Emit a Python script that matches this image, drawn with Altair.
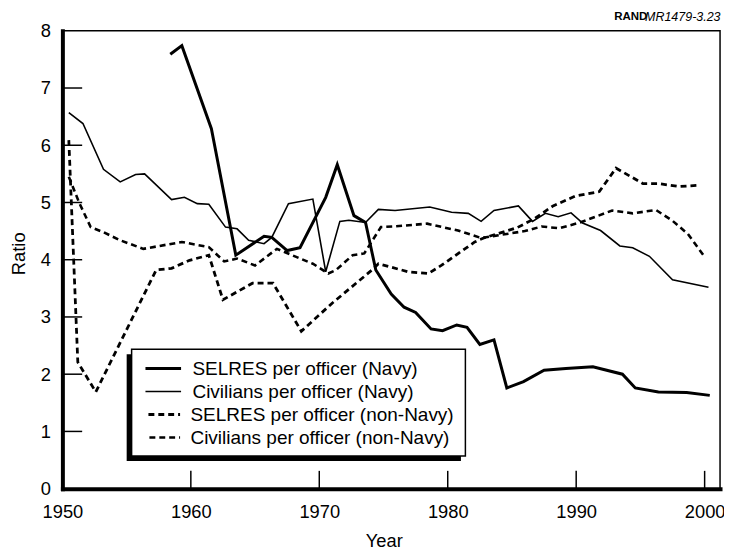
import altair as alt
import pandas as pd

# ---------------- data ----------------
series_names = [
    "SELRES per officer (Navy)",
    "Civilians per officer (Navy)",
    "SELRES per officer (non-Navy)",
    "Civilians per officer (non-Navy)",
]

selres_navy_years = [1958.4, 1959.3, 1961.6, 1963.5, 1965.7, 1966.3, 1967.5, 1968.5, 1970.5, 1971.4,
                     1972.7, 1973.6, 1974.4, 1975.6, 1976.6, 1977.5, 1978.7, 1979.6, 1980.7, 1981.5,
                     1982.5, 1983.6, 1984.6, 1985.9, 1987.5, 1989.2, 1991.3, 1993.6, 1994.6, 1996.4,
                     1998.6, 2000.4]
selres_navy_vals = [7.59, 7.74, 6.29, 4.08, 4.41, 4.39, 4.16, 4.21, 5.09, 5.66,
                    4.77, 4.65, 3.82, 3.40, 3.17, 3.08, 2.79, 2.76, 2.86, 2.82,
                    2.52, 2.60, 1.76, 1.87, 2.07, 2.10, 2.13, 2.00, 1.76, 1.69,
                    1.68, 1.63]

civ_navy_years = [1950.5, 1951.6, 1953.2, 1954.5, 1955.7, 1956.4, 1958.5, 1959.5, 1960.5, 1961.4,
                  1962.7, 1963.6, 1964.5, 1965.7, 1966.3, 1967.6, 1969.5, 1970.5, 1971.6, 1972.3,
                  1973.6, 1974.6, 1975.9, 1978.6, 1980.3, 1981.6, 1982.6, 1983.6, 1985.5, 1986.6,
                  1987.6, 1988.6, 1989.6, 1990.5, 1991.9, 1993.4, 1994.4, 1995.7, 1997.5, 2000.3]
civ_navy_vals = [6.57, 6.38, 5.58, 5.36, 5.49, 5.50, 5.05, 5.09, 4.98, 4.97,
                 4.57, 4.54, 4.34, 4.28, 4.39, 4.98, 5.06, 3.79, 4.67, 4.69,
                 4.65, 4.88, 4.86, 4.92, 4.83, 4.81, 4.67, 4.86, 4.94, 4.67,
                 4.81, 4.75, 4.82, 4.64, 4.51, 4.24, 4.21, 4.06, 3.65, 3.52]

selres_other_years = [1950.5, 1951.2, 1952.6, 1957.3, 1958.5, 1959.9, 1961.4, 1962.5, 1964.8, 1966.4,
                      1968.6, 1971.0, 1974.1, 1974.6, 1976.9, 1978.5, 1979.5, 1982.1, 1982.8, 1985.4,
                      1986.7, 1988.2, 1989.9, 1991.8, 1993.1, 1995.2, 1996.4, 1998.0, 1999.5]
selres_other_vals = [6.09, 2.21, 1.69, 3.82, 3.85, 3.99, 4.08, 3.30, 3.59, 3.59,
                     2.75, 3.24, 3.82, 3.93, 3.79, 3.76, 3.90, 4.31, 4.38, 4.56,
                     4.71, 4.94, 5.11, 5.19, 5.60, 5.33, 5.33, 5.28, 5.30]

civ_other_years = [1950.5, 1951.3, 1952.2, 1953.2, 1954.5, 1956.3, 1959.3, 1961.4, 1962.6, 1963.6,
                   1965.0, 1966.7, 1968.2, 1969.5, 1970.7, 1971.3, 1972.6, 1973.5, 1974.8, 1975.7,
                   1978.4, 1980.8, 1982.6, 1986.0, 1987.3, 1988.7, 1990.3, 1992.8, 1994.4, 1996.2,
                   1997.5, 1998.7, 1999.9]
civ_other_vals = [5.45, 5.00, 4.57, 4.48, 4.34, 4.19, 4.31, 4.22, 3.97, 4.02,
                  3.90, 4.19, 4.05, 3.93, 3.76, 3.82, 4.08, 4.11, 4.57, 4.58,
                  4.63, 4.51, 4.38, 4.50, 4.58, 4.55, 4.65, 4.86, 4.81, 4.87,
                  4.68, 4.45, 4.08]

x_tick_labels = [1950, 1960, 1970, 1980, 1990, 2000]
y_tick_labels = [0, 1, 2, 3, 4, 5, 6, 7, 8]
x_inner_ticks = [1960, 1970, 1980, 1990, 2000]
y_inner_ticks = [1, 2, 3, 4, 5, 6, 7]

series_data = [
    (selres_navy_years, selres_navy_vals),
    (civ_navy_years, civ_navy_vals),
    (selres_other_years, selres_other_vals),
    (civ_other_years, civ_other_vals),
]

# ---------------- styling ----------------
W, H = 665, 463
FONT = "Liberation Sans"
FS = 18.5
LFS = 19.2

styles = [
    dict(strokeWidth=3.0),
    dict(strokeWidth=1.6),
    dict(strokeWidth=2.8, strokeDash=[6, 4]),
    dict(strokeWidth=2.6, strokeDash=[6, 4]),
]

xscale = alt.Scale(domain=[1950, 2001.2], nice=False, zero=False)
yscale = alt.Scale(domain=[0, 8], nice=False, zero=False)

xaxis = alt.Axis(values=x_tick_labels, format="d", title="Year", labelFlush=False,
                 ticks=False, tickSize=0, grid=False, labelPadding=14,
                 labelFontSize=FS, titleFontSize=FS, titleFontWeight="normal",
                 titleX=325, titleY=58, titleAlign="center", titleBaseline="alphabetic")
yaxis = alt.Axis(values=y_tick_labels, format="d", title="Ratio", labelFlush=False,
                 ticks=False, tickSize=0, grid=False, labelPadding=12,
                 labelFontSize=FS, titleFontSize=FS, titleFontWeight="normal",
                 titleX=-44, titleY=225, titleAlign="center", titleBaseline="middle",
                 titleAngle=270)

X = alt.X("year:Q", scale=xscale, axis=xaxis)
Y = alt.Y("value:Q", scale=yscale, axis=yaxis)

layers = []
for name, (yrs, vals), st in zip(series_names, series_data, styles):
    df = pd.DataFrame({"year": yrs, "value": vals, "series": name})
    layers.append(
        alt.Chart(df).mark_line(color="black", strokeCap="butt", **st).encode(x=X, y=Y)
    )

# inward tick marks
layers.append(
    alt.Chart(pd.DataFrame({"value": y_inner_ticks})).mark_rule(color="black", strokeWidth=1.5)
    .encode(y=Y, x=alt.value(0), x2=alt.value(20))
)
layers.append(
    alt.Chart(pd.DataFrame({"year": x_inner_ticks})).mark_rule(color="black", strokeWidth=1.5)
    .encode(x=X, y=alt.value(H), y2=alt.value(H - 18))
)

# ---------------- legend (drawn by hand, with drop shadow) ----------------
one = pd.DataFrame({"k": [0]})
layers.append(alt.Chart(one).mark_rect(color="black").encode(
    x=alt.value(65), x2=alt.value(403), y=alt.value(327), y2=alt.value(435)))
layers.append(alt.Chart(one).mark_rect(fill="white", stroke="black", strokeWidth=1.5).encode(
    x=alt.value(70), x2=alt.value(407.5), y=alt.value(322), y2=alt.value(430)))

sym_y = [341.5, 364.7, 388, 411.3]
txt_y = [348, 371.3, 394.7, 418]
sym_x = [(84, 120), (84, 120), (87, 119), (88, 119)]
txt_x = [131.5, 131.5, 129.5, 129.5]
for i, name in enumerate(series_names):
    st = dict(styles[i])
    layers.append(alt.Chart(one).mark_rule(color="black", strokeCap="butt", **st).encode(
        x=alt.value(sym_x[i][0]), x2=alt.value(sym_x[i][1]), y=alt.value(sym_y[i])))
    layers.append(alt.Chart(one).mark_text(text=name, align="left", baseline="alphabetic",
                                           font=FONT, fontSize=LFS, color="black").encode(
        x=alt.value(txt_x[i]), y=alt.value(txt_y[i])))

# ---------------- source tag ----------------
layers.append(alt.Chart(one).mark_text(text="RAND", align="right", baseline="middle",
                                       font=FONT, fontSize=11.6, fontWeight="bold",
                                       color="black").encode(x=alt.value(591.5), y=alt.value(-14)))
layers.append(alt.Chart(one).mark_text(text="MR1479-3.23", align="right", baseline="middle",
                                       font=FONT, fontSize=12.6, fontStyle="italic",
                                       color="black").encode(x=alt.value(665.5), y=alt.value(-14)))

chart = (
    alt.layer(*layers)
    .properties(width=W, height=H,
                autosize=alt.AutoSizeParams(type="none"),
                padding={"left": 55, "top": 20, "right": 4, "bottom": 60})
    .configure(font=FONT)
    .configure_view(stroke="black", strokeWidth=1.5)
    .configure_axis(domainColor="black", domainWidth=4, domainCap="square",
                    labelColor="black", titleColor="black", labelFont=FONT, titleFont=FONT)
)

chart.save("out.html", embed_options={"renderer": "svg", "actions": False})
